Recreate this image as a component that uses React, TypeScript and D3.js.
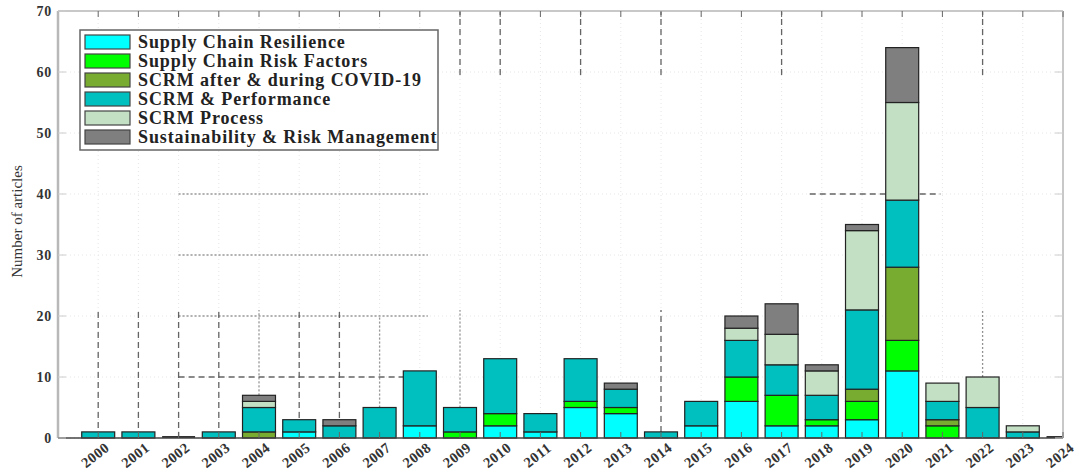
import React from "react";
import * as d3 from "d3";

const years = [2000, 2001, 2002, 2003, 2004, 2005, 2006, 2007, 2008, 2009, 2010, 2011, 2012, 2013, 2014, 2015, 2016, 2017, 2018, 2019, 2020, 2021, 2022, 2023, 2024];
const seriesNames = [
  "Supply Chain Resilience",
  "Supply Chain Risk Factors",
  "SCRM after & during COVID-19",
  "SCRM & Performance",
  "SCRM Process",
  "Sustainability & Risk Management",
];
const seriesColors = ["#00FFFF", "#00FF00", "#77AC30", "#00BFBF", "#C3E0C5", "#7F7F7F"];

const resilience = [0, 0, 0, 0, 0, 1, 0, 0, 2, 0, 2, 1, 5, 4, 0, 2, 6, 2, 2, 3, 11, 0, 0, 0, 0];
const riskFactors = [0, 0, 0, 0, 0, 0, 0, 0, 0, 1, 2, 0, 1, 1, 0, 0, 4, 5, 1, 3, 5, 2, 0, 0, 0];
const covid = [0, 0, 0, 0, 1, 0, 0, 0, 0, 0, 0, 0, 0, 0, 0, 0, 0, 0, 0, 2, 12, 1, 0, 0, 0];
const performance = [1, 1, 0, 1, 4, 2, 2, 5, 9, 4, 9, 3, 7, 3, 1, 4, 6, 5, 4, 13, 11, 3, 5, 1, 0];
const process = [0, 0, 0, 0, 1, 0, 0, 0, 0, 0, 0, 0, 0, 0, 0, 0, 2, 5, 4, 13, 16, 3, 5, 1, 0];
const sustainability = [0, 0, 0, 0, 1, 0, 1, 0, 0, 0, 0, 0, 0, 1, 0, 0, 2, 5, 1, 1, 9, 0, 0, 0, 0];

const yTicks = [0, 10, 20, 30, 40, 50, 60, 70];

// stray guide segments visible in the figure (data units)
const vGuides = [
  { x: 2000, y0: 0, y1: 21, kind: "dash" },
  { x: 2001, y0: 0, y1: 21, kind: "dash" },
  { x: 2002, y0: 0, y1: 21, kind: "dash" },
  { x: 2003, y0: 0, y1: 21, kind: "dash" },
  { x: 2004, y0: 7, y1: 21, kind: "dot" },
  { x: 2005, y0: 0, y1: 21, kind: "dash" },
  { x: 2006, y0: 0, y1: 21, kind: "dash" },
  { x: 2007, y0: 5, y1: 20, kind: "dot" },
  { x: 2009, y0: 5, y1: 21, kind: "dot" },
  { x: 2014, y0: 1, y1: 21, kind: "dash" },
  { x: 2022, y0: 10, y1: 21, kind: "dot" },
  { x: 2009, y0: 59.5, y1: 70, kind: "dash" },
  { x: 2010, y0: 59.5, y1: 70, kind: "dash" },
  { x: 2012, y0: 59.5, y1: 70, kind: "dash" },
  { x: 2014, y0: 59.5, y1: 70, kind: "dash" },
  { x: 2017, y0: 59.5, y1: 70, kind: "dash" },
  { x: 2022, y0: 59.5, y1: 70, kind: "dash" },
];
const hGuides = [
  { y: 10, x0: 2002, x1: 2007.6, kind: "dash" },
  { y: 20, x0: 2002, x1: 2008.2, kind: "dot" },
  { y: 30, x0: 2002, x1: 2008.2, kind: "dot" },
  { y: 40, x0: 2002, x1: 2008.2, kind: "dot" },
  { y: 70, x0: 2002, x1: 2008.2, kind: "dot" },
  { y: 40, x0: 2017.7, x1: 2020.95, kind: "dash" },
];

const W = 1074;
const H = 470;
const M = { left: 58, right: 1063, top: 11, bottom: 438 };

export default function App() {
  const x = d3.scaleLinear().domain([1999, 2024]).range([M.left, M.right]);
  const y = d3.scaleLinear().domain([0, 70]).range([M.bottom, M.top]);
  const bw = (x(1) - x(0)) * 0.82;

  const table = years.map((yr, i) => ({
    year: yr,
    s0: resilience[i],
    s1: riskFactors[i],
    s2: covid[i],
    s3: performance[i],
    s4: process[i],
    s5: sustainability[i],
  }));
  const keys = ["s0", "s1", "s2", "s3", "s4", "s5"];
  const stacked = d3.stack().keys(keys)(table as any);
  const totals = table.map((d) => keys.reduce((a, k) => a + (d as any)[k], 0));

  const font = "'Liberation Serif', 'Times New Roman', serif";
  const dashFor = (k: string) => (k === "dash" ? "6,4" : "2,2");

  return (
    <svg width={W} height={H} style={{ position: "absolute", left: 0, top: 0, background: "#fff" }} fontFamily={font}>
      <defs>
        <clipPath id="plot">
          <rect x={M.left} y={M.top} width={M.right - M.left} height={M.bottom - M.top + 1} />
        </clipPath>
      </defs>

      {/* faint grid */}
      <g stroke="#e6e6e6" strokeWidth={1} strokeDasharray="1,3">
        {years.map((yr) => (
          <line key={"gx" + yr} x1={x(yr)} x2={x(yr)} y1={M.top} y2={M.bottom} />
        ))}
        {yTicks.map((t) => (
          <line key={"gy" + t} x1={M.left} x2={M.right} y1={y(t)} y2={y(t)} />
        ))}
      </g>

      {/* guide segments */}
      <g stroke="#555" strokeWidth={1.3}>
        {vGuides.map((g, i) => (
          <line key={"vg" + i} x1={x(g.x)} x2={x(g.x)} y1={y(g.y0)} y2={y(g.y1)} strokeDasharray={dashFor(g.kind)} opacity={g.kind === "dot" ? 0.6 : 0.9} />
        ))}
        {hGuides.map((g, i) => (
          <line key={"hg" + i} x1={x(g.x0)} x2={x(g.x1)} y1={y(g.y)} y2={y(g.y)} strokeDasharray={dashFor(g.kind)} opacity={g.kind === "dot" ? 0.6 : 0.9} />
        ))}
      </g>

      {/* bars */}
      <g clipPath="url(#plot)">
        {stacked.map((layer, li) => (
          <g key={"l" + li} fill={seriesColors[li]} stroke="#222" strokeWidth={1.2}>
            {layer.map((d, i) =>
              d[1] - d[0] > 0 ? (
                <rect key={i} x={x(years[i]) - bw / 2} y={y(d[1])} width={bw} height={y(d[0]) - y(d[1])} />
              ) : null
            )}
          </g>
        ))}
        {totals.map((t, i) =>
          t === 0 ? (
            <line key={"z" + i} x1={x(years[i]) - bw / 2} x2={x(years[i]) + bw / 2} y1={y(0) - 1} y2={y(0) - 1} stroke="#333" strokeWidth={2} />
          ) : null
        )}
      </g>

      {/* axes box */}
      <line x1={M.left} x2={M.right} y1={M.top} y2={M.top} stroke="#c8c8c8" strokeWidth={2} />
      <line x1={M.right} x2={M.right} y1={M.top} y2={M.bottom} stroke="#c8c8c8" strokeWidth={2} />
      <line x1={M.left} x2={M.left} y1={M.top} y2={M.bottom} stroke="#b8b8b8" strokeWidth={2.5} />
      <line x1={M.left} x2={M.right} y1={M.bottom} y2={M.bottom} stroke="#444" strokeWidth={1.5} />

      {/* ticks */}
      <g stroke="#666" strokeWidth={1}>
        {years.map((yr) => (
          <g key={"t" + yr}>
            <line x1={x(yr)} x2={x(yr)} y1={M.bottom} y2={M.bottom - 6} />
            <line x1={x(yr)} x2={x(yr)} y1={M.top} y2={M.top + 6} />
          </g>
        ))}
        {yTicks.map((t) => (
          <g key={"yt" + t}>
            <line x1={M.left} x2={M.left + 8} y1={y(t)} y2={y(t)} stroke="#ccc" />
            <line x1={M.right} x2={M.right - 8} y1={y(t)} y2={y(t)} stroke="#ccc" />
          </g>
        ))}
      </g>

      {/* y tick labels */}
      <g fontSize={14} fontWeight="bold" fill="#333" textAnchor="end">
        {yTicks.map((t) => (
          <text key={"yl" + t} x={M.left - 6} y={y(t) + 5} letterSpacing={0.8}>
            {t}
          </text>
        ))}
      </g>

      {/* x tick labels */}
      <g fontSize={14.5} fontWeight="bold" fill="#333" textAnchor="middle">
        {years.map((yr) => (
          <text key={"xl" + yr} transform={`translate(${x(yr)},${M.bottom + 21}) rotate(-38)`} letterSpacing={0.5}>
            {yr}
          </text>
        ))}
      </g>

      {/* y label */}
      <text transform={`translate(22,${(M.top + M.bottom) / 2 - 3}) rotate(-90)`} textAnchor="middle" fontSize={15} fill="#333">
        Number of articles
      </text>

      {/* legend */}
      <g>
        <rect x={80} y={30} width={358} height={120} fill="#fff" stroke="#666" strokeWidth={1.5} />
        {seriesNames.map((name, i) => (
          <g key={"lg" + i} transform={`translate(0,${42 + i * 19})`}>
            <rect x={85} y={-7} width={45} height={14} fill={seriesColors[i]} stroke="#444" strokeWidth={1.2} />
            <text x={138} y={6} fontSize={18} fontWeight="bold" fill="#222" letterSpacing={0.9}>
              {name}
            </text>
          </g>
        ))}
      </g>
    </svg>
  );
}
